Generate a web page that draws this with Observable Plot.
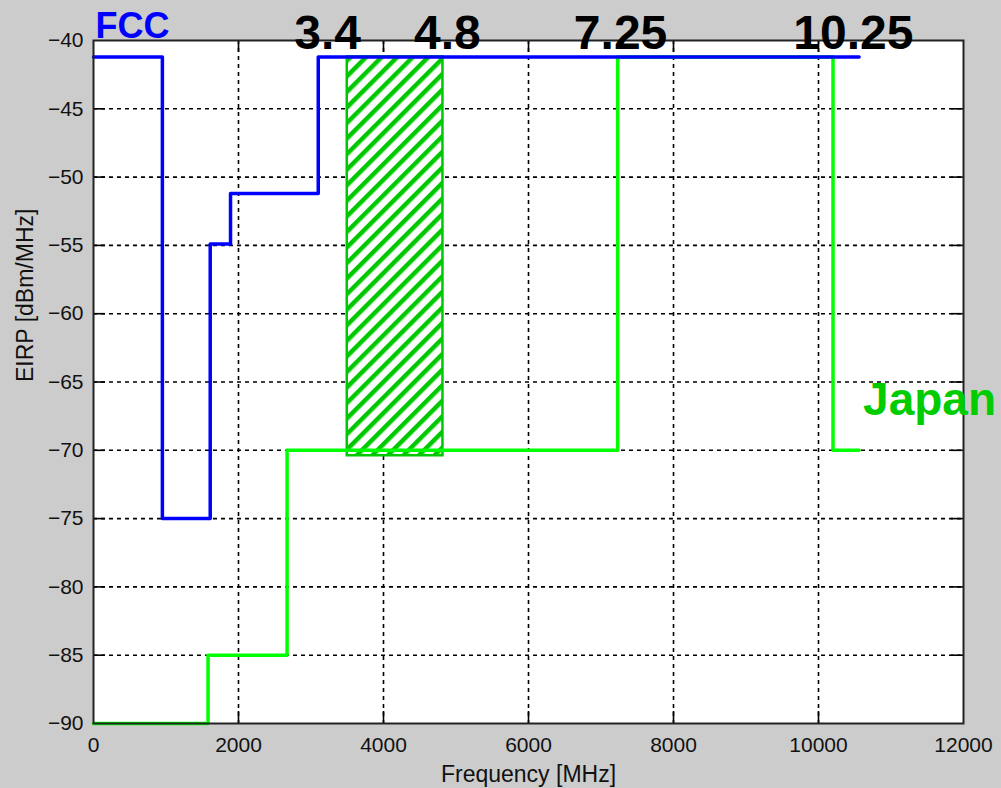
<!DOCTYPE html>
<html>
<head>
<meta charset="utf-8">
<script src="https://cdn.jsdelivr.net/npm/d3@7"></script>
<script src="https://cdn.jsdelivr.net/npm/@observablehq/plot@0.6"></script>
<style>
  html, body { margin: 0; padding: 0; background: #cccccc; }
  #chart svg { display: block; }
</style>
</head>
<body>
<div id="chart"></div>
<script>
// ---- data ----
const fccFreq  = [0, 950, 1610, 1890, 3100, 10560];
const fccEirp  = [-41.2, -75, -54.9, -51.2, -41.2, -41.2];
const japanFreq = [0, 1580, 2670, 7230, 10200, 10560];
const japanEirp = [-90, -85, -70, -41.2, -70, -70];
const bandFreq = [3500, 4820];          // hatched band
const bandEirp = [-70.4, -41.2];
const bandLabels = ["3.4", "4.8", "7.25", "10.25"];
const bandLabelFreq = [3230, 4880, 7270, 10480];
const xTicks = [0, 2000, 4000, 6000, 8000, 10000, 12000];
const yTicks = [-90, -85, -80, -75, -70, -65, -60, -55, -50, -45, -40];
const seriesNames = ["FCC", "Japan"];

const fcc = fccFreq.map((f, i) => ({f, v: fccEirp[i]}));
const japan = japanFreq.map((f, i) => ({f, v: japanEirp[i]}));
const band = [{x1: bandFreq[0], x2: bandFreq[1], y1: bandEirp[0], y2: bandEirp[1]}];
const labels = bandLabels.map((t, i) => ({t, f: bandLabelFreq[i]}));

const W = 1001, H = 788;
const mL = 93, mR = 38, mT = 40, mB = 65;
const plotW = W - mL - mR, plotH = H - mT - mB;
const tickLen = 12;
const blue = "#0000ff", green = "#00ff00", dgreen = "#00c800";
const font = "'Liberation Sans', Arial, sans-serif";

const innerX = xTicks.slice(1, -1);
const innerY = yTicks.slice(1, -1);

const chart = Plot.plot({
  width: W, height: H,
  marginLeft: mL, marginRight: mR, marginTop: mT, marginBottom: mB,
  style: {background: "#cccccc", fontFamily: font, color: "#000", overflow: "visible"},
  x: {domain: [0, 12000], label: null},
  y: {domain: [-90, -40], label: null},
  marks: [
    Plot.frame({fill: "white", stroke: null}),
    // dashed grid
    Plot.ruleX(innerX, {stroke: "#000", strokeWidth: 1.6, strokeDasharray: "4,4"}),
    Plot.ruleY(innerY, {stroke: "#000", strokeWidth: 1.6, strokeDasharray: "4,4"}),
    // inward ticks
    Plot.ruleX(innerX, {stroke: "#000", strokeWidth: 1.6, insetTop: plotH - tickLen}),
    Plot.ruleX(innerX, {stroke: "#000", strokeWidth: 1.6, insetBottom: plotH - tickLen}),
    Plot.ruleY(innerY, {stroke: "#000", strokeWidth: 1.6, insetRight: plotW - tickLen}),
    Plot.ruleY(innerY, {stroke: "#000", strokeWidth: 1.6, insetLeft: plotW - tickLen}),
    // hatched band
    Plot.rect(band, {x1: "x1", x2: "x2", y1: "y1", y2: "y2", fill: "url(#hatch)", stroke: dgreen, strokeWidth: 2.5}),
    // series
    Plot.line(japan, {x: "f", y: "v", curve: "step-after", stroke: green, strokeWidth: 3.5}),
    Plot.line(fcc, {x: "f", y: "v", curve: "step-after", stroke: blue, strokeWidth: 3.5}),
    // frame
    Plot.frame({stroke: "#222", strokeWidth: 2}),
    // axes
    Plot.axisX(xTicks, {tickSize: 0, tickPadding: 14, fontSize: 21, tickFormat: d => String(d), fill: "#111"}),
    Plot.axisY(yTicks, {tickSize: 0, tickPadding: 10, fontSize: 21, tickFormat: d => (d < 0 ? "\u2212" : "") + Math.abs(d), fill: "#111"}),
    // axis titles
    Plot.text(["Frequency [MHz]"], {frameAnchor: "bottom", dy: 58, fontSize: 23, fill: "#111", lineAnchor: "bottom"}),
    Plot.text(["EIRP [dBm/MHz]"], {frameAnchor: "left", dx: -68, dy: 0, rotate: -90, fontSize: 23, fill: "#111"}),
    // band labels
    Plot.text(labels, {x: "f", text: "t", frameAnchor: "top", lineAnchor: "bottom", dy: 8, fontSize: 48, fontWeight: "bold", fill: "#000"}),
    // series labels
    Plot.text([seriesNames[0]], {x: () => 0, frameAnchor: "top", lineAnchor: "bottom", textAnchor: "start", dx: 2, dy: -3, fontSize: 36, fontWeight: "bold", fill: blue}),
    Plot.text([seriesNames[1]], {x: () => japanFreq[japanFreq.length - 1], y: () => japanEirp[japanEirp.length - 1], textAnchor: "start", lineAnchor: "bottom", dx: 4, dy: -35, fontSize: 46, fontWeight: "bold", fill: "#00cc00"})
  ]
});

// hatch pattern definition
const svgNS = "http://www.w3.org/2000/svg";
const defs = document.createElementNS(svgNS, "defs");
const pat = document.createElementNS(svgNS, "pattern");
pat.setAttribute("id", "hatch");
pat.setAttribute("patternUnits", "userSpaceOnUse");
pat.setAttribute("width", "11");
pat.setAttribute("height", "11");
pat.setAttribute("patternTransform", "rotate(45)");
const bg = document.createElementNS(svgNS, "rect");
bg.setAttribute("width", "11"); bg.setAttribute("height", "11"); bg.setAttribute("fill", "white");
const ln = document.createElementNS(svgNS, "rect");
ln.setAttribute("x", "0"); ln.setAttribute("y", "0");
ln.setAttribute("width", "4.5"); ln.setAttribute("height", "11"); ln.setAttribute("fill", dgreen);
pat.appendChild(bg); pat.appendChild(ln);
defs.appendChild(pat);
chart.insertBefore(defs, chart.firstChild);

document.getElementById("chart").appendChild(chart);
</script>
</body>
</html>
